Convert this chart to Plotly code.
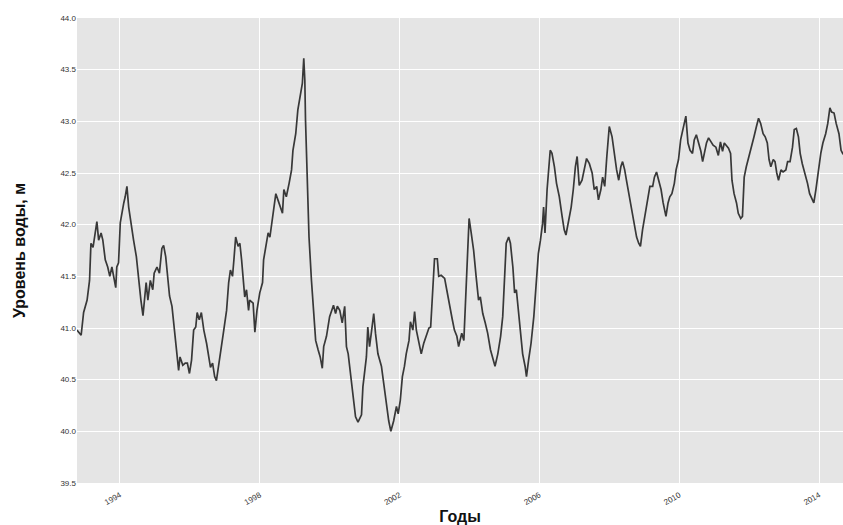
import pandas as pd
import plotly.graph_objects as go

# Decimal years (time of observation) and water level, m
years = [
    1992.77, 1992.89, 1992.96, 1993.06, 1993.13, 1993.17, 1993.23, 1993.29, 1993.34, 1993.39,
    1993.46, 1993.51, 1993.58, 1993.65, 1993.71, 1993.77, 1993.82, 1993.88, 1993.91, 1993.96,
    1994.01, 1994.06, 1994.11, 1994.15, 1994.20, 1994.25, 1994.31, 1994.39, 1994.47, 1994.53,
    1994.60, 1994.66, 1994.69, 1994.75, 1994.80, 1994.87, 1994.94, 1994.98, 1995.06, 1995.13,
    1995.20, 1995.25, 1995.31, 1995.36, 1995.42, 1995.49, 1995.55, 1995.61, 1995.68, 1995.72,
    1995.80, 1995.87, 1995.93, 1995.99, 1996.05, 1996.11, 1996.17, 1996.21, 1996.27, 1996.33,
    1996.40, 1996.48, 1996.55, 1996.59, 1996.65, 1996.71, 1996.76, 1996.84, 1996.91, 1996.97,
    1997.05, 1997.11, 1997.16, 1997.22, 1997.26, 1997.31, 1997.38, 1997.43, 1997.48, 1997.52,
    1997.57, 1997.62, 1997.68, 1997.71, 1997.81, 1997.86, 1997.92, 1998.00, 1998.08, 1998.11,
    1998.19, 1998.24, 1998.29, 1998.33, 1998.40, 1998.46, 1998.52, 1998.59, 1998.65, 1998.69,
    1998.76, 1998.84, 1998.91, 1998.95, 1999.03, 1999.09, 1999.16, 1999.22, 1999.26, 1999.29,
    1999.31, 1999.36, 1999.41, 1999.48, 1999.54, 1999.60, 1999.67, 1999.73, 1999.79, 1999.83,
    1999.91, 1999.96, 2000.00, 2000.06, 2000.11, 2000.17, 2000.22, 2000.29, 2000.36, 2000.43,
    2000.48, 2000.53, 2000.62, 2000.69, 2000.74, 2000.81, 2000.91, 2000.95, 2001.00, 2001.05,
    2001.09, 2001.14, 2001.19, 2001.26, 2001.31, 2001.38, 2001.48, 2001.54, 2001.62, 2001.69,
    2001.75, 2001.83, 2001.91, 2001.96, 2002.02, 2002.08, 2002.14, 2002.19, 2002.27, 2002.31,
    2002.38, 2002.43, 2002.48, 2002.55, 2002.62, 2002.69, 2002.76, 2002.84, 2002.89, 2002.95,
    2003.00, 2003.08, 2003.12, 2003.19, 2003.29, 2003.35, 2003.43, 2003.51, 2003.57, 2003.64,
    2003.69, 2003.78, 2003.84, 2003.91, 2003.95, 2003.99, 2004.05, 2004.12, 2004.19, 2004.26,
    2004.31, 2004.38, 2004.45, 2004.52, 2004.60, 2004.67, 2004.73, 2004.81, 2004.89, 2004.95,
    2005.00, 2005.05, 2005.12, 2005.17, 2005.24, 2005.29, 2005.34, 2005.40, 2005.46, 2005.52,
    2005.59, 2005.63, 2005.69, 2005.76, 2005.84, 2005.91, 2005.97, 2006.03, 2006.09, 2006.12,
    2006.16, 2006.22, 2006.31, 2006.36, 2006.43, 2006.49, 2006.57, 2006.65, 2006.71, 2006.76,
    2006.84, 2006.91, 2006.97, 2007.03, 2007.08, 2007.14, 2007.22, 2007.29, 2007.35, 2007.43,
    2007.51, 2007.57, 2007.64, 2007.69, 2007.76, 2007.81, 2007.87, 2007.93, 2008.00, 2008.08,
    2008.14, 2008.21, 2008.27, 2008.33, 2008.38, 2008.44, 2008.49, 2008.57, 2008.65, 2008.71,
    2008.78, 2008.84, 2008.89, 2008.95, 2009.03, 2009.09, 2009.16, 2009.24, 2009.29, 2009.35,
    2009.41, 2009.48, 2009.54, 2009.62, 2009.68, 2009.73, 2009.79, 2009.86, 2009.91, 2009.98,
    2010.04, 2010.09, 2010.15, 2010.19, 2010.25, 2010.31, 2010.38, 2010.43, 2010.49, 2010.55,
    2010.62, 2010.67, 2010.71, 2010.78, 2010.84, 2010.91, 2010.97, 2011.05, 2011.12, 2011.18,
    2011.24, 2011.29, 2011.35, 2011.41, 2011.47, 2011.51, 2011.57, 2011.64, 2011.69, 2011.76,
    2011.81, 2011.86, 2011.92, 2012.00, 2012.08, 2012.14, 2012.21, 2012.27, 2012.33, 2012.40,
    2012.46, 2012.52, 2012.57, 2012.62, 2012.69, 2012.74, 2012.79, 2012.84, 2012.91, 2012.97,
    2013.05, 2013.10, 2013.17, 2013.24, 2013.29, 2013.35, 2013.41, 2013.46, 2013.52, 2013.60,
    2013.67, 2013.73, 2013.79, 2013.85, 2013.91, 2013.98, 2014.05, 2014.11, 2014.19, 2014.25,
    2014.31, 2014.36, 2014.43, 2014.49, 2014.57, 2014.63, 2014.69,
]

levels = [
    40.98, 40.93, 41.15, 41.27, 41.46, 41.82, 41.78, 41.95, 42.03, 41.85,
    41.92, 41.85, 41.66, 41.59, 41.50, 41.59, 41.50, 41.39, 41.59, 41.63,
    42.02, 42.14, 42.21, 42.27, 42.37, 42.17, 42.02, 41.85, 41.69, 41.46,
    41.27, 41.12, 41.24, 41.44, 41.27, 41.46, 41.37, 41.53, 41.59, 41.53,
    41.77, 41.80, 41.69, 41.50, 41.31, 41.21, 41.02, 40.82, 40.59, 40.72,
    40.64, 40.66, 40.66, 40.56, 40.69, 40.98, 41.01, 41.15, 41.08, 41.15,
    40.98, 40.85, 40.72, 40.62, 40.66, 40.53, 40.49, 40.66, 40.85, 40.98,
    41.17, 41.44, 41.56, 41.50, 41.66, 41.88, 41.79, 41.82, 41.66, 41.53,
    41.30, 41.37, 41.17, 41.27, 41.24, 40.96, 41.17, 41.34, 41.44, 41.66,
    41.82, 41.92, 41.88, 41.98, 42.11, 42.30, 42.24, 42.17, 42.11, 42.34,
    42.27, 42.40, 42.53, 42.72, 42.88, 43.11, 43.27, 43.37, 43.61, 43.40,
    43.01, 42.53, 41.88, 41.46, 41.14, 40.88, 40.79, 40.72, 40.61, 40.82,
    40.92, 41.02, 41.11, 41.17, 41.22, 41.14, 41.21, 41.17, 41.05, 41.21,
    40.82, 40.75, 40.50, 40.27, 40.14, 40.09, 40.16, 40.43, 40.56, 40.72,
    41.01, 40.82, 40.95, 41.14, 40.95, 40.75, 40.63, 40.47, 40.27, 40.10,
    40.00, 40.10, 40.24, 40.17, 40.30, 40.53, 40.63, 40.75, 40.88, 41.06,
    40.98, 41.16, 40.98, 40.88, 40.75, 40.85, 40.92, 41.00, 41.01, 41.40,
    41.67, 41.67, 41.50, 41.51, 41.48, 41.37, 41.21, 41.08, 40.98, 40.92,
    40.82, 40.95, 40.88, 41.46, 41.75, 42.06, 41.92, 41.75, 41.50, 41.27,
    41.30, 41.14, 41.05, 40.95, 40.79, 40.69, 40.63, 40.75, 40.92, 41.11,
    41.50, 41.82, 41.88, 41.82, 41.59, 41.34, 41.37, 41.17, 40.98, 40.75,
    40.63, 40.53, 40.69, 40.85, 41.11, 41.46, 41.72, 41.85, 42.01, 42.17,
    41.92, 42.34, 42.72, 42.69, 42.56, 42.40, 42.27, 42.08, 41.95, 41.90,
    42.05, 42.17, 42.34, 42.56, 42.66, 42.38, 42.43, 42.53, 42.64, 42.59,
    42.50, 42.34, 42.37, 42.24, 42.34, 42.46, 42.37, 42.66, 42.95, 42.85,
    42.69, 42.53, 42.43, 42.56, 42.61, 42.53, 42.43, 42.27, 42.11, 41.98,
    41.88, 41.82, 41.79, 41.95, 42.11, 42.24, 42.37, 42.37, 42.46, 42.51,
    42.43, 42.34, 42.21, 42.08, 42.21, 42.27, 42.30, 42.40, 42.53, 42.63,
    42.82, 42.90, 42.98, 43.05, 42.79, 42.72, 42.69, 42.82, 42.87, 42.79,
    42.71, 42.61, 42.69, 42.79, 42.84, 42.80, 42.77, 42.75, 42.67, 42.80,
    42.71, 42.79, 42.77, 42.74, 42.69, 42.43, 42.30, 42.21, 42.11, 42.06,
    42.08, 42.46, 42.56, 42.66, 42.75, 42.85, 42.95, 43.03, 42.98, 42.88,
    42.85, 42.79, 42.63, 42.56, 42.63, 42.61, 42.50, 42.43, 42.53, 42.51,
    42.53, 42.61, 42.61, 42.75, 42.92, 42.93, 42.85, 42.69, 42.59, 42.50,
    42.40, 42.30, 42.25, 42.21, 42.34, 42.53, 42.69, 42.79, 42.88, 42.98,
    43.13, 43.09, 43.08, 42.98, 42.88, 42.72, 42.68,
]

x_range_years = [1992.7714, 2014.6857]
y_range = [39.5, 44.0]


def to_date(y):
    yr = int(y)
    start = pd.Timestamp(year=yr, month=1, day=1)
    end = pd.Timestamp(year=yr + 1, month=1, day=1)
    return start + (end - start) * (y - yr)


dates = [to_date(v) for v in years]
x_range = [to_date(v) for v in x_range_years]

fig = go.Figure()
fig.add_trace(go.Scatter(
    x=dates, y=levels, mode="lines",
    line=dict(color="#383838", width=1.7),
    showlegend=False,
))

font_family = "Liberation Sans, Arial, sans-serif"

fig.update_layout(
    width=843, height=525,
    margin=dict(l=77, r=0, t=18, b=42),
    paper_bgcolor="white",
    plot_bgcolor="#e5e5e5",
    font=dict(family=font_family, color="#222"),
    xaxis=dict(
        range=x_range,
        type="date",
        tick0="1994-01-01", dtick="M48", tickformat="%Y",
        tickangle=-30,
        tickfont=dict(size=8, color="#333"),
        ticklabelstandoff=5,
        showgrid=True, gridcolor="white", gridwidth=1.2,
        zeroline=False, showline=False, ticks="",
        title=dict(text="<b>Годы</b>", font=dict(size=16, color="#111"), standoff=6),
    ),
    yaxis=dict(
        range=y_range,
        tick0=39.5, dtick=0.5, tickformat=".1f",
        tickfont=dict(size=8, color="#333"),
        showgrid=True, gridcolor="white", gridwidth=1.2,
        zeroline=False, showline=False, ticks="",
        title=dict(text="<b>Уровень воды, м</b>", font=dict(size=16, color="#111"), standoff=30),
    ),
)

fig.write_html("out.html")
